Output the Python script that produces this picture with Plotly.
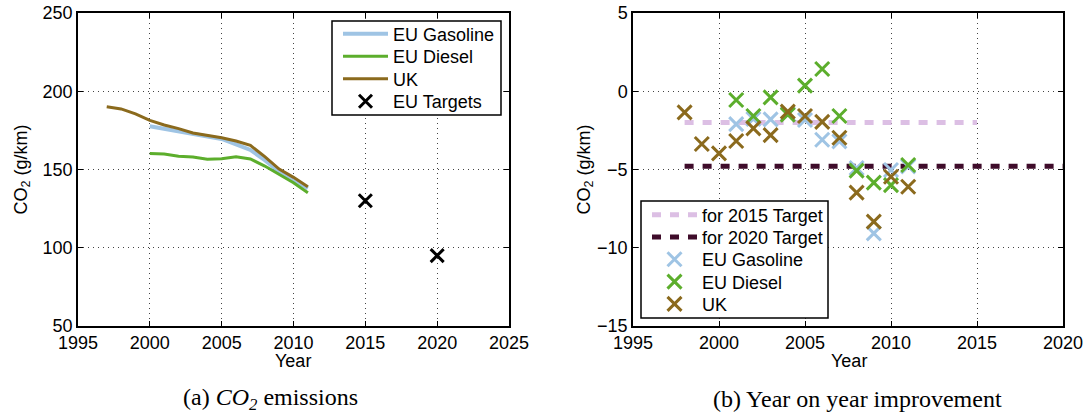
import plotly.graph_objects as go

# ---- data: average new-car CO2 emissions (g/km) ----
years_uk = list(range(1997, 2012))
uk = [190.1, 188.7, 185.5, 181.4, 178.4, 176.1, 173.3, 171.8, 170.3, 168.2, 165.4, 158.2, 150.3, 145.0, 139.0]

years_eu = list(range(2000, 2012))
eu_gasoline = [177.6, 175.9, 174.6, 172.9, 171.4, 169.5, 166.1, 162.5, 156.0, 148.6, 143.3, 138.0]
eu_diesel = [160.3, 159.9, 158.4, 158.0, 156.5, 156.9, 158.2, 156.7, 152.2, 147.1, 141.6, 135.2]

target_years = [2015, 2020]
target_values = [130, 95]

# ---- data: year on year change (g/km) ----
yoy_years_uk = list(range(1998, 2012))
yoy_uk = [-1.35, -3.37, -3.97, -3.18, -2.37, -2.8, -1.3, -1.58, -1.96, -2.97, -6.48, -8.33, -5.46, -6.1]

yoy_years_eu = list(range(2001, 2012))
yoy_gasoline = [-2.1, -1.77, -1.8, -1.45, -1.84, -3.1, -3.2, -4.9, -9.08, -5.03, -4.8]
yoy_diesel = [-0.56, -1.58, -0.39, -1.5, 0.36, 1.42, -1.58, -5.07, -5.84, -6.0, -4.71]

req_2015_years = [1998, 2015]
req_2015 = [-2.0, -2.0]
req_2020_years = [1998, 2020]
req_2020 = [-4.8, -4.8]

C_GAS = "#9fc4e4"
C_DIE = "#5cae2c"
C_UK = "#8b6a1d"
C_PINK = "#dcbfe4"
C_DARK = "#3f0c2a"

W, H = 1090, 416
FONT = "Liberation Sans, Arial, sans-serif"
FS = 18


def px_x(p):
    return p / W


def px_y(p):
    return 1 - p / H


fig = go.Figure()

# each legend entry gets its own legend so rows can be spaced tightly
LEFT_ROWS = [34, 56.5, 79, 101.5]
RIGHT_ROWS = [215, 237.3, 259.6, 281.9, 304.2]

# left panel
left_traces = [
    go.Scatter(x=years_eu, y=eu_gasoline, mode="lines", name="EU Gasoline",
               line=dict(color=C_GAS, width=4)),
    go.Scatter(x=years_eu, y=eu_diesel, mode="lines", name="EU Diesel",
               line=dict(color=C_DIE, width=3)),
    go.Scatter(x=years_uk, y=uk, mode="lines", name="UK",
               line=dict(color=C_UK, width=3)),
    go.Scatter(x=target_years, y=target_values, mode="markers", name="EU Targets",
               marker=dict(symbol="x-thin", size=13, line=dict(width=3, color="black"))),
]

# right panel
right_traces = [
    go.Scatter(x=req_2015_years, y=req_2015, mode="lines", name="for 2015 Target",
               line=dict(color=C_PINK, width=5, dash="9px,9px")),
    go.Scatter(x=req_2020_years, y=req_2020, mode="lines", name="for 2020 Target",
               line=dict(color=C_DARK, width=5, dash="9px,9px")),
]
for name, xs, ys, col in [("EU Gasoline", yoy_years_eu, yoy_gasoline, C_GAS),
                          ("EU Diesel", yoy_years_eu, yoy_diesel, C_DIE),
                          ("UK", yoy_years_uk, yoy_uk, C_UK)]:
    right_traces.append(go.Scatter(x=xs, y=ys, mode="markers", name=name,
                                   marker=dict(symbol="x-thin", size=14, line=dict(width=3, color=col))))

legend_layouts = {}
n = 0
for traces, rows, ax, lx in [(left_traces, LEFT_ROWS, ("x", "y"), 338),
                             (right_traces, RIGHT_ROWS, ("x2", "y2"), 647)]:
    for tr, row in zip(traces, rows):
        n += 1
        key = "legend" if n == 1 else f"legend{n}"
        tr.update(xaxis=ax[0], yaxis=ax[1], legend=key)
        fig.add_trace(tr)
        legend_layouts[key] = dict(
            x=px_x(lx), y=px_y(row), xanchor="left", yanchor="middle",
            bgcolor="rgba(0,0,0,0)", borderwidth=0, itemwidth=45,
            font=dict(family=FONT, size=FS, color="black"),
        )

axis_common = dict(
    showline=True, linecolor="black", linewidth=1.5, mirror="ticks",
    ticks="inside", ticklen=5, tickcolor="black", tickwidth=1,
    showgrid=True, gridcolor="#444444", griddash="1px,4px", gridwidth=1,
    zeroline=False, automargin=False, tickfont=dict(family=FONT, size=FS, color="black"),
)

fig.update_layout(
    width=W, height=H,
    margin=dict(l=0, r=0, t=0, b=0, pad=0, autoexpand=False),
    paper_bgcolor="white", plot_bgcolor="white",
    font=dict(family=FONT, size=FS, color="black"),
    xaxis=dict(domain=[px_x(78), px_x(509)], range=[1995, 2025], dtick=5, anchor="y", **axis_common),
    yaxis=dict(domain=[px_y(326), px_y(13)], range=[50, 250], dtick=50, anchor="x", **axis_common),
    xaxis2=dict(domain=[px_x(633), px_x(1063)], range=[1995, 2020], dtick=5, anchor="y2", **axis_common),
    yaxis2=dict(domain=[px_y(326), px_y(13)], range=[-15, 5], dtick=5, anchor="x2", **axis_common),
    showlegend=True,
    **legend_layouts,
)

# legend frames (white boxes that sit over the data)
for x0, y0, x1, y1 in [(332, 21, 501, 115), (641, 201, 828, 318)]:
    fig.add_shape(type="rect", xref="paper", yref="paper",
                  x0=px_x(x0), x1=px_x(x1), y0=px_y(y1), y1=px_y(y0),
                  fillcolor="white", line=dict(color="black", width=1.5), layer="above")

annotations = [
    dict(text="CO<sub>2</sub> (g/km)", x=px_x(22), y=px_y(169.5), textangle=-90),
    dict(text="CO<sub>2</sub> (g/km)", x=px_x(585), y=px_y(169.5), textangle=-90),
    dict(text="Year", x=px_x(293), y=px_y(361)),
    dict(text="Year", x=px_x(849), y=px_y(361)),
]
for a in annotations:
    a.update(xref="paper", yref="paper", xanchor="center", yanchor="middle", showarrow=False,
             font=dict(family=FONT, size=FS, color="black"))
fig.update_layout(annotations=annotations)

SERIF = "Liberation Serif, DejaVu Serif, serif"
fig.add_annotation(text="(a) <i>CO<sub>2</sub></i> emissions", x=px_x(270), y=px_y(399),
                   xref="paper", yref="paper", showarrow=False, xanchor="center", yanchor="middle",
                   font=dict(family=SERIF, size=24, color="black"))
fig.add_annotation(text="(b) Year on year improvement", x=px_x(857), y=px_y(399),
                   xref="paper", yref="paper", showarrow=False, xanchor="center", yanchor="middle",
                   font=dict(family=SERIF, size=24, color="black"))

fig.write_html("out.html")
